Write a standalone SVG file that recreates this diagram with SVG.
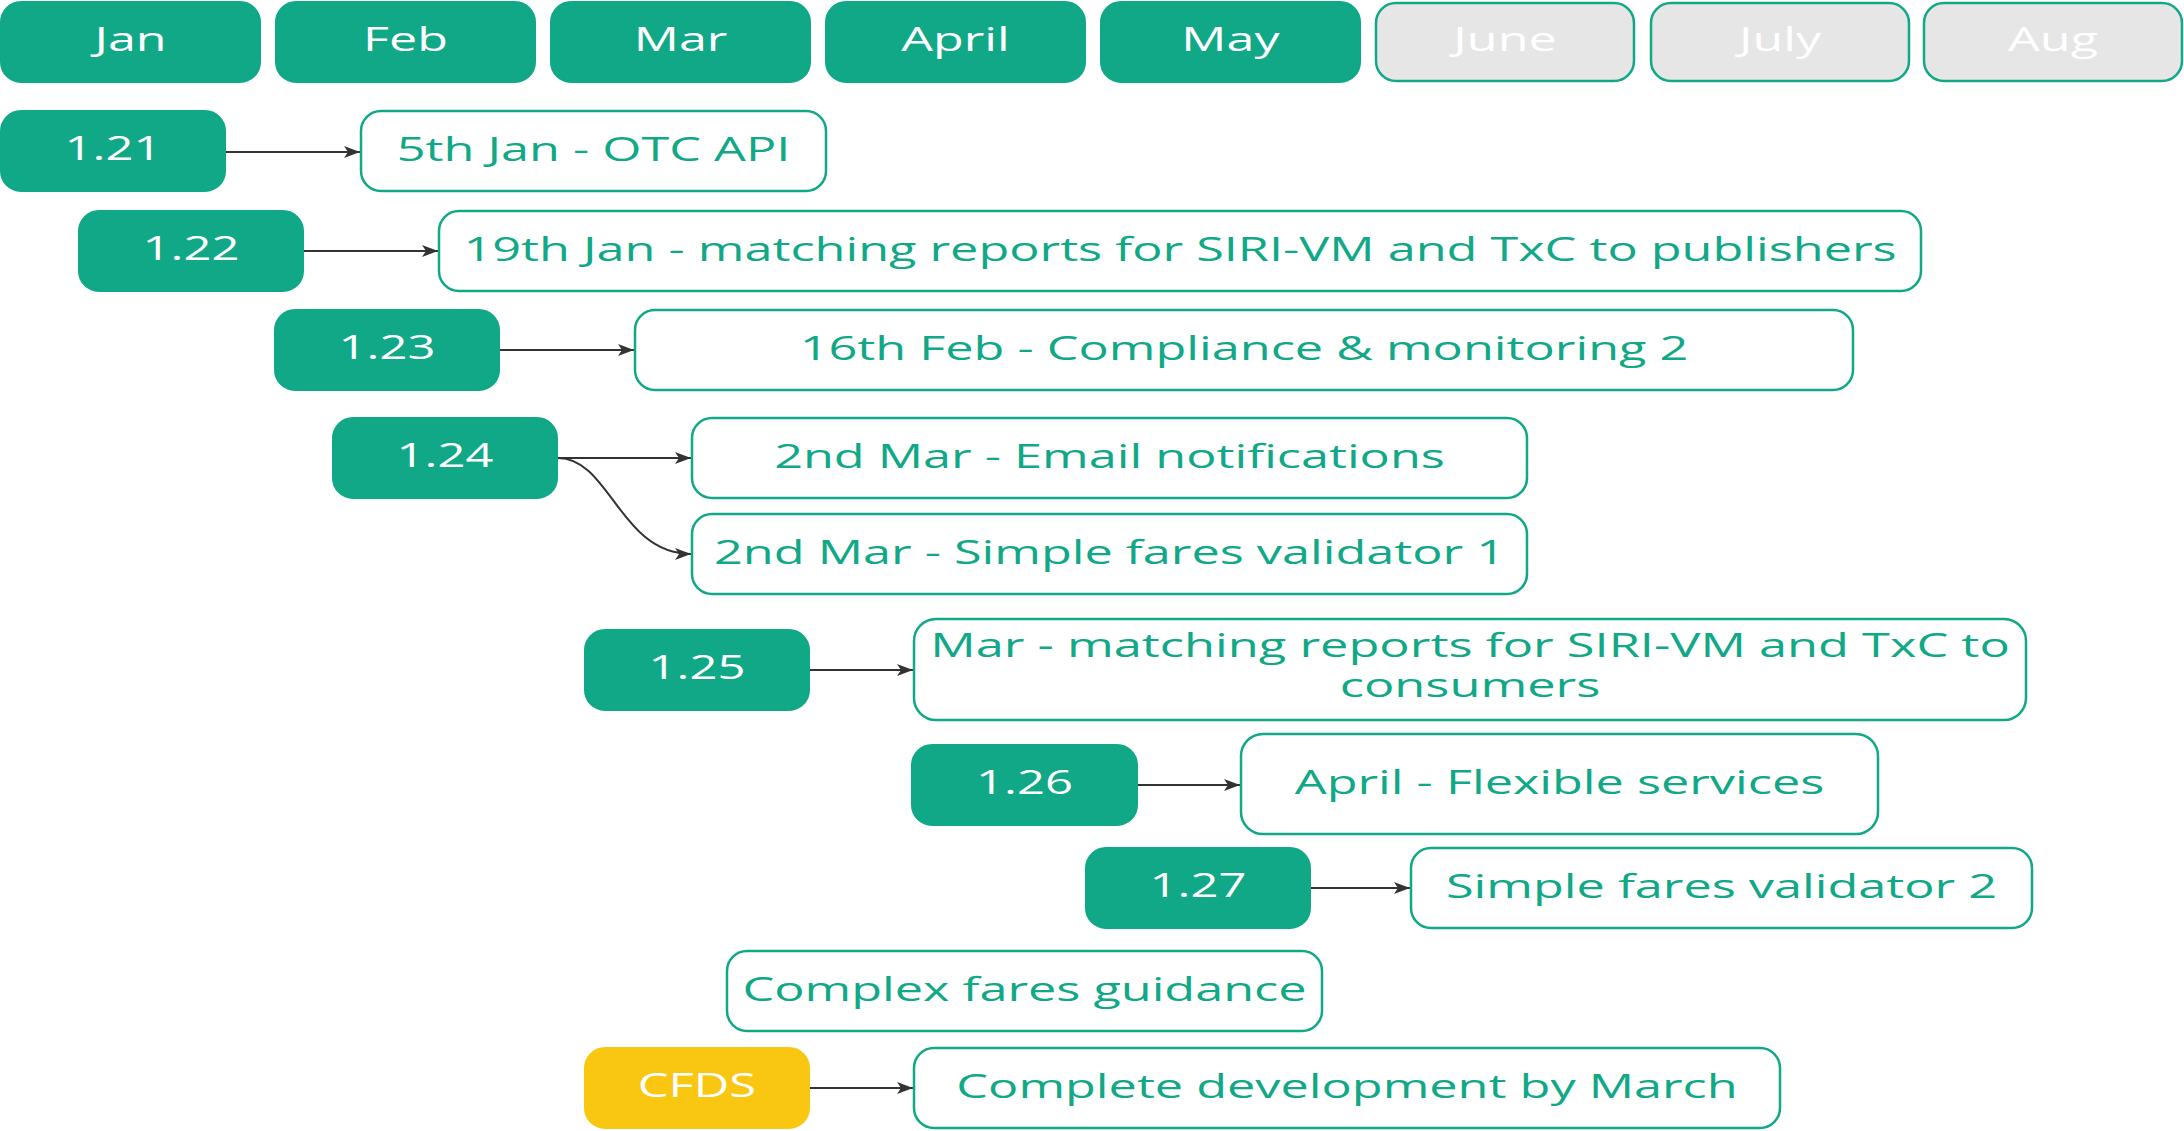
<svg xmlns="http://www.w3.org/2000/svg" width="2184" height="1131" viewBox="0 0 2184 1131">
<style>
.fill{fill:#10a886;stroke:#10a886;stroke-width:2}
.grey{fill:#e6e6e6;stroke:#10a886;stroke-width:2.5}
.out{fill:#ffffff;stroke:#10a886;stroke-width:2.5}
.cfds{fill:#f9c711;stroke:#f9c711;stroke-width:2}
text{font-family:"Open Sans","Noto Sans","DejaVu Sans",sans-serif;font-size:32px;text-anchor:middle}
.w{fill:#ffffff}
.g{fill:#10a886}
.conn{fill:none;stroke:#333333;stroke-width:2}
</style>
<defs>
<marker id="arr" viewBox="0 0 16 12" refX="16" refY="6" markerWidth="16" markerHeight="12" markerUnits="userSpaceOnUse" orient="auto">
<path d="M0,0 L16,6 L0,12 L4,6 z" fill="#333333"/>
</marker>
</defs>

<g id="month-jan"><rect class="fill" x="1" y="2" width="259" height="80" rx="20"/><text class="w" transform="translate(130.5,51) scale(1.57,1)">Jan</text></g>
<g id="month-feb"><rect class="fill" x="276" y="2" width="259" height="80" rx="20"/><text class="w" transform="translate(405.5,51) scale(1.57,1)">Feb</text></g>
<g id="month-mar"><rect class="fill" x="551" y="2" width="259" height="80" rx="20"/><text class="w" transform="translate(680.5,51) scale(1.57,1)">Mar</text></g>
<g id="month-apr"><rect class="fill" x="826" y="2" width="259" height="80" rx="20"/><text class="w" transform="translate(955.5,51) scale(1.57,1)">April</text></g>
<g id="month-may"><rect class="fill" x="1101" y="2" width="259" height="80" rx="20"/><text class="w" transform="translate(1230.5,51) scale(1.57,1)">May</text></g>
<g id="month-jun"><rect class="grey" x="1376" y="3" width="258" height="78" rx="20"/><text class="w" transform="translate(1505,51) scale(1.57,1)">June</text></g>
<g id="month-jul"><rect class="grey" x="1651" y="3" width="258" height="78" rx="20"/><text class="w" transform="translate(1780,51) scale(1.57,1)">July</text></g>
<g id="month-aug"><rect class="grey" x="1924" y="3" width="258" height="78" rx="20"/><text class="w" transform="translate(2053,51) scale(1.57,1)">Aug</text></g>

<g id="connectors">
<path class="conn" d="M226,152 L360,152" marker-end="url(#arr)"/>
<path class="conn" d="M304,251 L438,251" marker-end="url(#arr)"/>
<path class="conn" d="M500,350 L634,350" marker-end="url(#arr)"/>
<path class="conn" d="M558,458 L691,458" marker-end="url(#arr)"/>
<path class="conn" d="M558,458 C610,458 620,554 691,554" marker-end="url(#arr)"/>
<path class="conn" d="M810,670 L913,670" marker-end="url(#arr)"/>
<path class="conn" d="M1138,785 L1240,785" marker-end="url(#arr)"/>
<path class="conn" d="M1311,888 L1410,888" marker-end="url(#arr)"/>
<path class="conn" d="M810,1088 L913,1088" marker-end="url(#arr)"/>
</g>

<g id="n121"><rect class="fill" x="1" y="111" width="224" height="80" rx="20"/><text class="w" transform="translate(113,160) scale(1.53,1)">1.21</text></g>
<g id="t121"><rect class="out" x="361" y="111" width="465" height="80" rx="20"/><text class="g" transform="translate(593.5,161) scale(1.575,1)">5th Jan - OTC API</text></g>

<g id="n122"><rect class="fill" x="79" y="211" width="224" height="80" rx="20"/><text class="w" transform="translate(191,260) scale(1.53,1)">1.22</text></g>
<g id="t122"><rect class="out" x="439" y="211" width="1482" height="80" rx="20"/><text class="g" transform="translate(1180,261) scale(1.575,1)">19th Jan - matching reports for SIRI-VM and TxC to publishers</text></g>

<g id="n123"><rect class="fill" x="275" y="310" width="224" height="80" rx="20"/><text class="w" transform="translate(387,359) scale(1.53,1)">1.23</text></g>
<g id="t123"><rect class="out" x="635" y="310" width="1218" height="80" rx="20"/><text class="g" transform="translate(1244,360) scale(1.575,1)">16th Feb - Compliance &amp; monitoring 2</text></g>

<g id="n124"><rect class="fill" x="333" y="418" width="224" height="80" rx="20"/><text class="w" transform="translate(445,467) scale(1.53,1)">1.24</text></g>
<g id="t124a"><rect class="out" x="692" y="418" width="835" height="80" rx="20"/><text class="g" transform="translate(1109.5,468) scale(1.575,1)">2nd Mar - Email notifications</text></g>
<g id="t124b"><rect class="out" x="692" y="514" width="835" height="80" rx="20"/><text class="g" transform="translate(1109.5,564) scale(1.575,1)">2nd Mar - Simple fares validator 1</text></g>

<g id="n125"><rect class="fill" x="585" y="630" width="224" height="80" rx="20"/><text class="w" transform="translate(697,679) scale(1.53,1)">1.25</text></g>
<g id="t125"><rect class="out" x="914" y="619" width="1112" height="101" rx="22"/><text class="g" transform="translate(1470,657) scale(1.58,1)">Mar - matching reports for SIRI-VM and TxC to</text><text class="g" transform="translate(1470,697) scale(1.58,1)">consumers</text></g>

<g id="n126"><rect class="fill" x="912" y="745" width="225" height="80" rx="20"/><text class="w" transform="translate(1024.5,794) scale(1.53,1)">1.26</text></g>
<g id="t126"><rect class="out" x="1241" y="734" width="637" height="100" rx="22"/><text class="g" transform="translate(1559.5,794) scale(1.575,1)">April - Flexible services</text></g>

<g id="n127"><rect class="fill" x="1086" y="848" width="224" height="80" rx="20"/><text class="w" transform="translate(1198,897) scale(1.53,1)">1.27</text></g>
<g id="t127"><rect class="out" x="1411" y="848" width="621" height="80" rx="20"/><text class="g" transform="translate(1721.5,898) scale(1.575,1)">Simple fares validator 2</text></g>

<g id="complex"><rect class="out" x="727" y="951" width="595" height="80" rx="20"/><text class="g" transform="translate(1024.5,1001) scale(1.575,1)">Complex fares guidance</text></g>

<g id="cfds"><rect class="cfds" x="585" y="1048" width="224" height="80" rx="20"/><text class="w" transform="translate(697,1097) scale(1.53,1)">CFDS</text></g>
<g id="complete"><rect class="out" x="914" y="1048" width="866" height="80" rx="20"/><text class="g" transform="translate(1347,1098) scale(1.575,1)">Complete development by March</text></g>
</svg>
